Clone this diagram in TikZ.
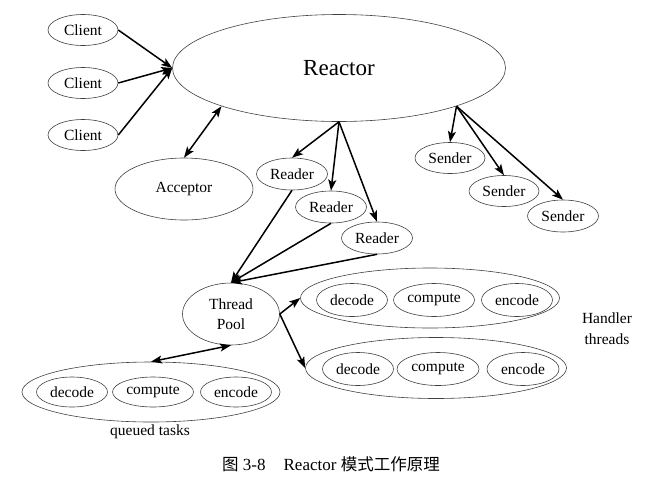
\documentclass[tikz,border=0pt]{standalone}
\usepackage{fontspec}
\setmainfont{Liberation Serif}
\newfontfamily\cjk{Noto Sans CJK SC}
\usetikzlibrary{shapes.geometric,arrows.meta}
\begin{document}
\begin{tikzpicture}[x=1pt,y=-1pt,
  ell/.style={draw=black!75,line width=0.6pt,ellipse,inner sep=0pt,font=\fontsize{15.5}{17}\selectfont},
  arr/.style={line width=1.5pt,-{Stealth[length=11pt,width=8pt,inset=2.5pt]}},
  darr/.style={line width=1.5pt,{Stealth[length=11pt,width=8pt,inset=2.5pt]}-{Stealth[length=11pt,width=8pt,inset=2.5pt]}}]
\useasboundingbox (0,0) rectangle (654,480);
% nodes
\node[ell,minimum width=70pt,minimum height=31pt] (c1) at (83,30) {Client};
\node[ell,minimum width=70pt,minimum height=31pt] (c2) at (83,83) {Client};
\node[ell,minimum width=70pt,minimum height=31pt] (c3) at (83,135) {Client};
\node[ell,minimum width=333pt,minimum height=107pt,font=\fontsize{23}{26}\selectfont] (re) at (339,68) {Reactor};
\node[ell,minimum width=138pt,minimum height=62pt] (ac) at (184,189) {Acceptor};
\node[ell,minimum width=71pt,minimum height=32pt] (r1) at (292,174) {Reader};
\node[ell,minimum width=71pt,minimum height=32pt] (r2) at (331,207) {Reader};
\node[ell,minimum width=71pt,minimum height=32pt] (r3) at (377,238) {Reader};
\node[ell,minimum width=70pt,minimum height=31pt] (s1) at (450,158) {Sender};
\node[ell,minimum width=70pt,minimum height=31pt] (s2) at (504,191) {Sender};
\node[ell,minimum width=71pt,minimum height=32pt] (s3) at (563,216) {Sender};
\node[ell,minimum width=97pt,minimum height=62pt,align=center,font=\fontsize{15.5}{20}\selectfont] (tp) at (231,314) {Thread\\Pool};
% handler 1
\node[ell,minimum width=259pt,minimum height=60pt] (h1) at (430,298) {};
\node[ell,minimum width=71pt,minimum height=33pt] (h1d) at (352,300) {decode};
\node[ell,minimum width=81pt,minimum height=33pt] (h1c) at (434,300) {compute};
\node[ell,minimum width=71pt,minimum height=33pt] (h1e) at (517,300) {encode};
% handler 2
\node[ell,minimum width=261pt,minimum height=61pt] (h2) at (436,368) {};
\node[ell,minimum width=71pt,minimum height=33pt] (h2d) at (358,369) {decode};
\node[ell,minimum width=82pt,minimum height=33pt] (h2c) at (438,369) {compute};
\node[ell,minimum width=72pt,minimum height=33pt] (h2e) at (523,369) {encode};
% queue
\node[ell,minimum width=258pt,minimum height=60pt] (q) at (151,392) {};
\node[ell,minimum width=71pt,minimum height=30pt] (qd) at (72,392) {decode};
\node[ell,minimum width=81pt,minimum height=30pt] (qc) at (153,392) {compute};
\node[ell,minimum width=71pt,minimum height=30pt] (qe) at (236,392) {encode};
\node[font=\fontsize{15.5}{17}\selectfont] (ql) at (150,432) {queued tasks};
\node[align=center,font=\fontsize{15.5}{21}\selectfont] (hl) at (607,329) {Handler\\threads};
\node[font=\fontsize{17}{19}\selectfont] (cap) at (331,464) {{\cjk\fontsize{16.5}{19}\selectfont 图} 3-8\hspace{18pt}Reactor {\cjk\fontsize{16.5}{19}\selectfont 模式工作原理}};
% connectors
\draw[arr] (c1.east) -- (re.west);
\draw[arr] (c2.east) -- (re.west);
\draw[arr] (c3.east) -- (re.west);
\draw[darr] (ac.north) -- (re.198);
\draw[arr] (re.south) -- (r1.north);
\draw[arr] (re.south) -- (r2.north);
\draw[arr] (re.south) -- (r3.north);
\draw[arr] (re.-18) -- (s1.north);
\draw[arr] (re.-18) -- (s2.north);
\draw[arr] (re.-18) -- (s3.north);
\draw[arr] (r1.south) -- (tp.north);
\draw[arr] (r2.south) -- (tp.north);
\draw[arr] (r3.south) -- (tp.north);
\draw[arr] (tp.east) -- (h1.west);
\draw[arr] (tp.east) -- (h2.west);
\draw[darr] (tp.south) -- (q.north);
\end{tikzpicture}
\end{document}
